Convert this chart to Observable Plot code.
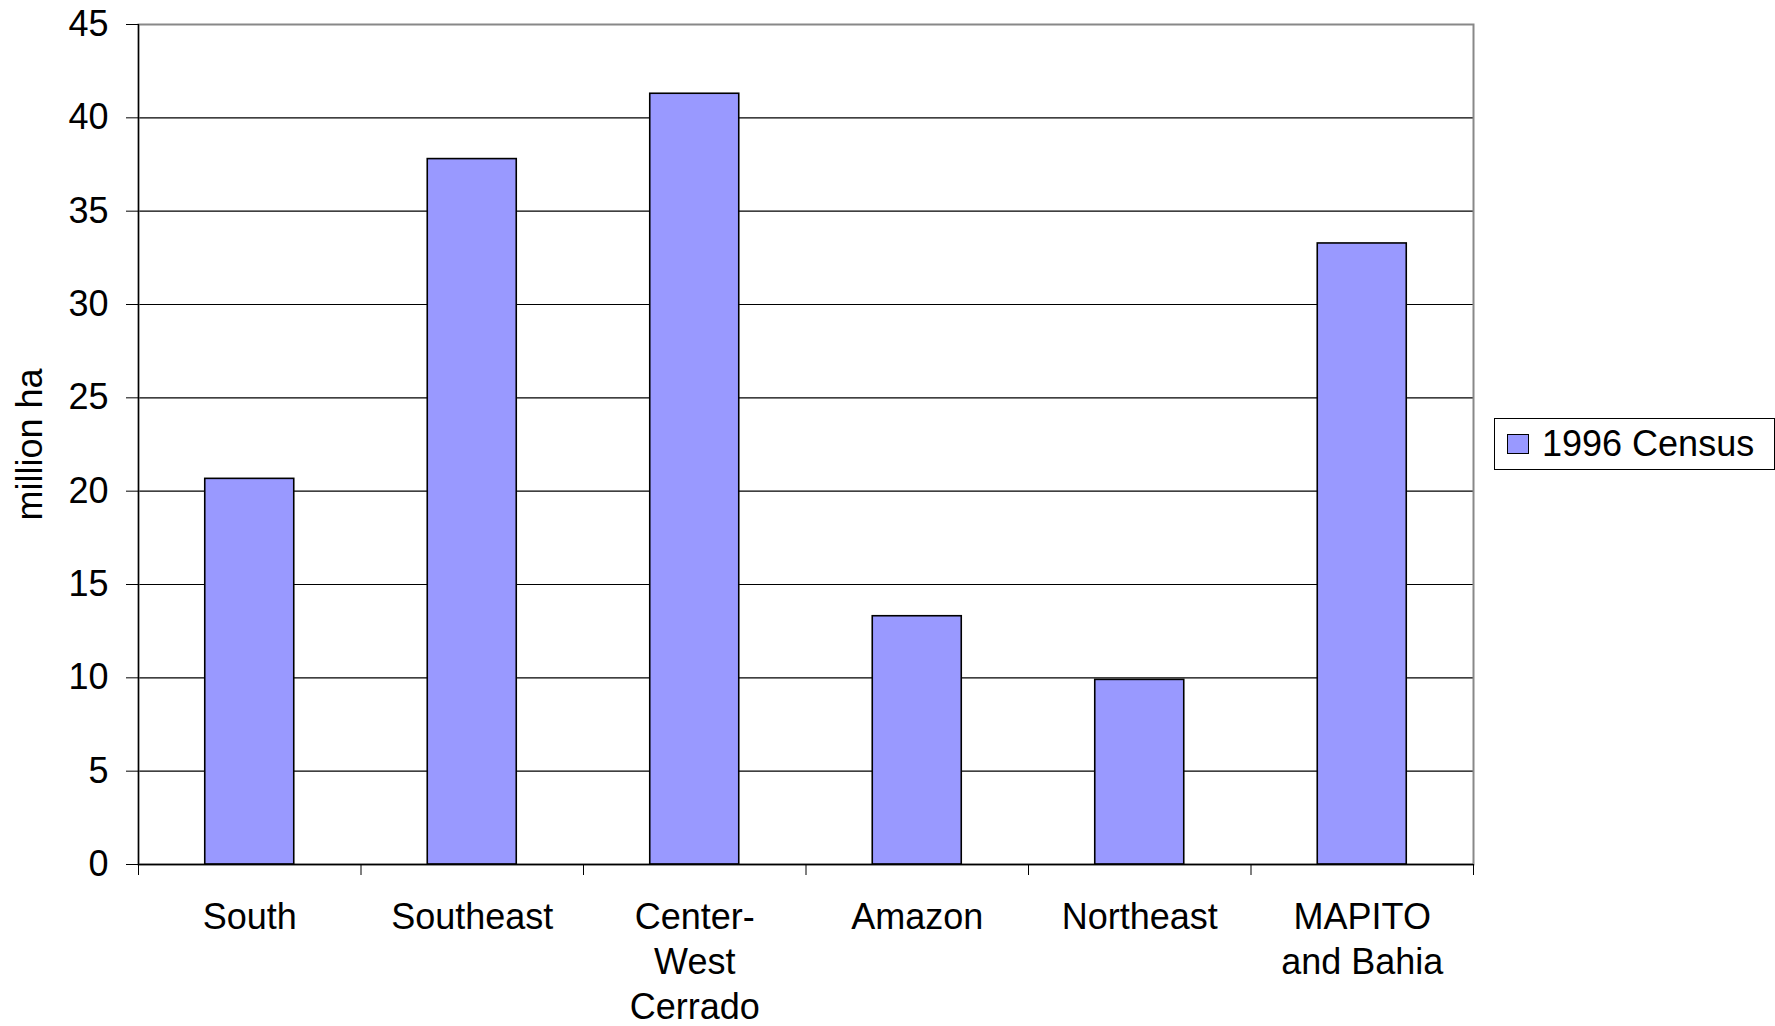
<!DOCTYPE html>
<html>
<head>
<meta charset="utf-8">
<script src="https://cdn.jsdelivr.net/npm/d3@7"></script>
<script src="https://cdn.jsdelivr.net/npm/@observablehq/plot@0.6"></script>
<style>
  html, body { margin: 0; padding: 0; background: #fff; }
  #wrap { position: relative; width: 1775px; height: 1026px; font-family: "Liberation Sans", Arial, sans-serif; }
  #legend { position: absolute; left: 1494px; top: 418px; width: 279px; height: 50px; border: 1px solid #000; background: #fff;
            display: flex; align-items: center; box-sizing: content-box; }
  #legend .sw { width: 20px; height: 18px; background: #9999FF; border: 1px solid #000; margin-left: 12px; margin-right: 13px; }
  #legend .lb { font-size: 36px; color: #000; line-height: 1; }
</style>
</head>
<body>
<div id="wrap"></div>
<script>
const categories = ["South", "Southeast", "Center-\nWest\nCerrado", "Amazon", "Northeast", "MAPITO\nand Bahia"];
const values = [20.66, 37.79, 41.29, 13.30, 9.89, 33.27];
const seriesName = "1996 Census";
const yTicks = [0, 5, 10, 15, 20, 25, 30, 35, 40, 45];
const yLabel = "million ha";

const data = categories.map((c, i) => ({i, category: c, value: values[i]}));
const font = "'Liberation Sans', Arial, sans-serif";

const chart = Plot.plot({
  width: 1775,
  height: 1026,
  marginLeft: 138,
  marginRight: 302,
  marginTop: 24,
  marginBottom: 162,
  style: {fontFamily: font, fontSize: "36px", color: "#000", background: "#fff"},
  x: {domain: [0, categories.length], axis: null},
  y: {domain: [0, 45], axis: null},
  marks: [
    Plot.gridY(yTicks.filter(t => t > 0 && t < 45), {stroke: "#000", strokeOpacity: 1, strokeWidth: 1.2}),
    Plot.frame({stroke: "#888", strokeWidth: 2}),
    Plot.rectY(data, {x1: d => d.i + 0.3, x2: d => d.i + 0.7, y: "value", fill: "#9999FF", stroke: "#000", strokeWidth: 1.6}),
    Plot.ruleX([0], {stroke: "#000", strokeWidth: 1.3}),
    Plot.ruleY([0], {stroke: "#000", strokeWidth: 1.3}),
    Plot.axisY({ticks: yTicks, tickSize: 12, tickPadding: 18, fontSize: 36, label: null, stroke: "#000"}),
    Plot.axisX({ticks: d3.range(categories.length + 1), tickSize: 11, tickFormat: () => "", label: null, stroke: "#000"}),
    Plot.axisX({ticks: data.map(d => d.i + 0.5), tickSize: 0, tickPadding: 33, fontSize: 36, lineHeight: 1.25,
                tickFormat: v => categories[Math.floor(v)], label: null}),
    Plot.text([yLabel], {frameAnchor: "left", textAnchor: "middle", rotate: -90, dx: -108, fontSize: 36, fill: "#000"})
  ]
});

const wrap = document.getElementById("wrap");
wrap.appendChild(chart);
const legend = document.createElement("div");
legend.id = "legend";
legend.innerHTML = `<div class="sw"></div><div class="lb">${seriesName}</div>`;
wrap.appendChild(legend);
</script>
</body>
</html>
